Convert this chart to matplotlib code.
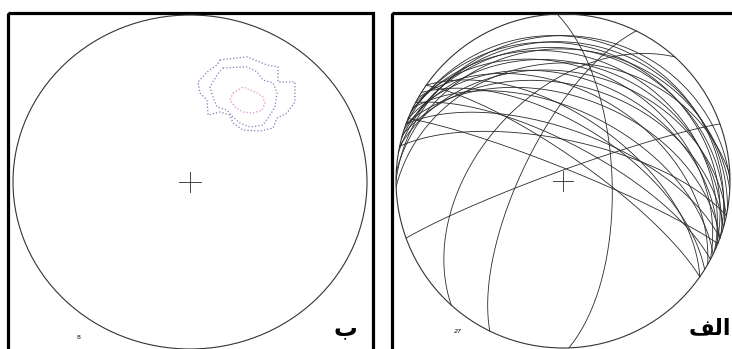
import numpy as np
import matplotlib
matplotlib.use("Agg")
import matplotlib.pyplot as plt
from matplotlib.patches import Rectangle, Ellipse

# Great circles (dip direction, dip) for the 27 measured planes
dip_dirs = [0, 10, 15, 20, 358, 18, 25, 12, 22, 28, 16, 30, 20, 26, 3, 24,
            32, 28, 35, 22, 88, 296, 312, 340, 20, 35, 12]
dips = [14, 18, 22, 15, 30, 30, 26, 35, 38, 33, 42, 45, 48, 55, 22, 20,
        62, 72, 78, 84, 66, 70, 48, 85, 65, 58, 70]

# Pole density contours of the 8 poles (unit-net coordinates)
outer_x = [0.169, 0.322, 0.435, 0.497, 0.497, 0.593, 0.593, 0.548, 0.492, 0.469,
           0.395, 0.299, 0.243, 0.226, 0.169, 0.102, 0.096, 0.056, 0.045, 0.096, 0.153]
outer_y = [0.731, 0.749, 0.701, 0.689, 0.599, 0.599, 0.479, 0.413, 0.383, 0.323,
           0.305, 0.311, 0.353, 0.401, 0.419, 0.401, 0.491, 0.533, 0.599, 0.659, 0.701]
mid_x = [0.186, 0.322, 0.379, 0.412, 0.469, 0.492, 0.480, 0.452, 0.412, 0.339,
         0.282, 0.243, 0.209, 0.153, 0.130, 0.113, 0.153]
mid_y = [0.683, 0.689, 0.659, 0.611, 0.593, 0.533, 0.449, 0.401, 0.341, 0.329,
         0.353, 0.389, 0.431, 0.449, 0.509, 0.569, 0.641]
inner_x = [0.243, 0.299, 0.379, 0.412, 0.424, 0.407, 0.356, 0.299, 0.254, 0.226]
inner_y = [0.533, 0.569, 0.533, 0.509, 0.473, 0.431, 0.413, 0.419, 0.449, 0.491]

n_left = 8
n_right = 27

W, H = 732, 349


def great_circle(dd, dip, n=200):
    # lower-hemisphere equal-area (Schmidt) projection of a plane
    dd_r, dip_r = np.radians(dd), np.radians(dip)
    st = dd_r - np.pi / 2
    s = np.array([np.sin(st), np.cos(st), 0.0])
    d = np.array([np.sin(dd_r) * np.cos(dip_r), np.cos(dd_r) * np.cos(dip_r), -np.sin(dip_r)])
    a = np.linspace(0, np.pi, n)
    v = np.outer(np.cos(a), s) + np.outer(np.sin(a), d)
    trend = np.arctan2(v[:, 0], v[:, 1])
    plunge = np.arcsin(np.clip(-v[:, 2], -1, 1))
    r = np.sqrt(2) * np.sin((np.pi / 2 - plunge) / 2)
    return r * np.sin(trend), r * np.cos(trend)


def net_axes(fig, cx, cy, rx, ry):
    ax = fig.add_axes([(cx - rx) / W, 1 - (cy + ry) / H, 2 * rx / W, 2 * ry / H])
    ax.set_xlim(-1, 1)
    ax.set_ylim(-1, 1)
    ax.axis("off")
    ax.add_patch(Ellipse((0, 0), 2, 2, fill=False, lw=0.8, ec="#333333", clip_on=False))
    ax.plot([-0.06, 0.06], [0, 0], color="#444444", lw=0.7)
    ax.plot([0, 0], [-0.06, 0.06], color="#444444", lw=0.7)
    return ax


fig = plt.figure(figsize=(W / 100, H / 100), dpi=100)
fig.patch.set_facecolor("white")

bg = fig.add_axes([0, 0, 1, 1])
bg.set_xlim(0, W)
bg.set_ylim(H, 0)
bg.axis("off")
bg.add_patch(Rectangle((8, 13), 365, 400, fill=False, lw=2.3, ec="black"))
bg.add_patch(Rectangle((392, 13), 400, 400, fill=False, lw=2.3, ec="black"))

# left net: contours
axl = net_axes(fig, 190, 182, 177, 167)
for xs, ys, col in [(outer_x, outer_y, "#7c7cb8"), (mid_x, mid_y, "#8a7cc0"),
                    (inner_x, inner_y, "#e08ccc")]:
    axl.plot(xs + xs[:1], ys + ys[:1], ls=":", lw=0.9, color=col)
axl.text(-0.63, -0.93, str(n_left), fontsize=4.5, ha="center", va="center")

# right net: great circles
axr = net_axes(fig, 563, 181, 167, 167)
for dd, dp in zip(dip_dirs, dips):
    x, y = great_circle(dd, dp)
    axr.plot(x, y, color="#2a2a2a", lw=0.6)
axr.text(-0.63, -0.9, str(n_right), fontsize=4.5, style="italic", ha="center", va="center")

arabic = ["DejaVu Sans", "Noto Sans"]
bg.text(345, 328, "\u0628", fontsize=17, fontweight="bold", family=arabic,
        ha="center", va="center")
bg.text(710, 328, "\uFED2\uFEDF\uFE8D", fontsize=16, fontweight="bold", family=arabic,
        ha="center", va="center")

fig.savefig("out.png", dpi=100)
